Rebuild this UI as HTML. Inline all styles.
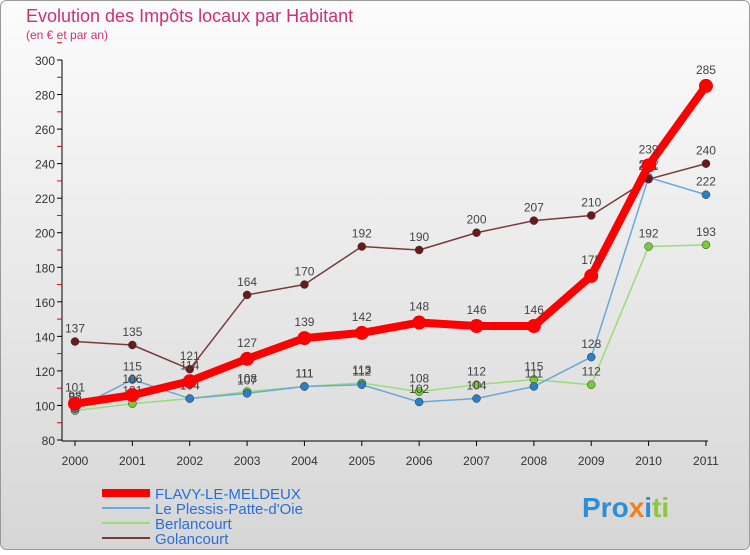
<!DOCTYPE html>
<html><head><meta charset="utf-8"><style>
body{margin:0;width:750px;height:550px;overflow:hidden;font-family:"Liberation Sans",sans-serif}
</style></head><body>
<svg width="750" height="550" xmlns="http://www.w3.org/2000/svg">
<defs><linearGradient id="bg" x1="0" y1="0" x2="0" y2="1"><stop offset="0" stop-color="#fcfcfc"/><stop offset="1" stop-color="#d6d6d6"/></linearGradient></defs>
<rect x="0.5" y="0.5" width="749" height="549" rx="6" fill="url(#bg)" stroke="#999"/>
<text x="26" y="22" font-size="18" fill="#d03070">Evolution des Impôts locaux par Habitant</text>
<text x="26" y="39" font-size="12" fill="#d03070">(en € et par an)</text>
<g id="axes"></g>
<g id="series"></g>
<g id="legend"></g>
<text x="582" y="517" font-size="28" font-weight="bold"><tspan fill="#2a8fd8">Pro</tspan><tspan fill="#f08020">x</tspan><tspan fill="#2a8fd8">i</tspan><tspan fill="#8cc83c">ti</tspan></text>
</svg>
<script>
const years=["2000","2001","2002","2003","2004","2005","2006","2007","2008","2009","2010","2011"];
const yTicks=[80,100,120,140,160,180,200,220,240,260,280,300];
const flavy=[101,106,114,127,139,142,148,146,146,175,239,285];
const plessis=[98,115,104,107,111,112,102,104,111,128,232,222];
const berlan=[97,101,104,108,111,113,108,112,115,112,192,193];
const golan=[137,135,121,164,170,192,190,200,207,210,231,240];
const names=["FLAVY-LE-MELDEUX","Le Plessis-Patte-d'Oie","Berlancourt","Golancourt"];
const NS="http://www.w3.org/2000/svg";
const X=i=>75+i*57.36, Y=v=>440-(v-80)*380/220;
function mk(t,a,p){const e=document.createElementNS(NS,t);for(const k in a)e.setAttribute(k,a[k]);p.appendChild(e);return e;}
const ax=document.getElementById('axes');
let l=mk('line',{x1:62,y1:60,x2:62,y2:441,stroke:'#000'},ax);


l=mk('line',{x1:62,y1:441,x2:708,y2:441,stroke:'#000'},ax);


yTicks.forEach(v=>{
 mk('line',{x1:57,y1:Y(v),x2:62,y2:Y(v),stroke:'#000'},ax);
 mk('line',{x1:57,y1:Y(v+10),x2:62,y2:Y(v+10),stroke:'#e00'},ax);
 const t=mk('text',{x:55,y:Y(v)+5,'text-anchor':'end','font-size':12,fill:'#333'},ax);t.textContent=v;
 
 
});
years.forEach((y,i)=>{
 mk('line',{x1:X(i),y1:441,x2:X(i),y2:446,stroke:'#000'},ax);
 const t=mk('text',{x:X(i),y:465,'text-anchor':'middle','font-size':12,fill:'#333'},ax);t.textContent=y;
 
 
});
const sg=document.getElementById('series');
const defs=[[berlan,'#99dd77','#77cc33',1.5,4],[plessis,'#6aa8d8','#2a80c8',1.5,4],[golan,'#7a3a3a','#6a1a1a',1.5,4],[flavy,'#ff0000','#ff0000',8,7]];
const keys=['series-berlancourt','series-plessis','series-golancourt','series-flavy'];
defs.forEach((d,k)=>{
 const g=mk('g',{},sg);
 
 
 mk('polyline',{points:d[0].map((v,i)=>X(i)+','+Y(v)).join(' '),fill:'none',stroke:d[1],'stroke-width':d[3],'stroke-linejoin':'round'},g);
 d[0].forEach((v,i)=>{
  const c=mk('circle',{cx:X(i),cy:Y(v),r:d[4],fill:d[2],stroke:k==3?'none':'#333','stroke-width':0.5},g);
  
  
  const t=mk('text',{x:X(i),y:Y(v)-9-(k==3?3:0),'text-anchor':'middle','font-size':12,fill:'#444'},g);t.textContent=v;
  
  
 });
});
const lg=document.getElementById('legend');
const lc=[['#ff0000',8],['#6aa8d8',2],['#99dd77',2],['#7a3a3a',2]];
names.forEach((n,i)=>{
 const y=493+i*15;
 const g=mk('g',{},lg);
 
 
 mk('line',{x1:102,y1:y,x2:150,y2:y,stroke:lc[i][0],'stroke-width':lc[i][1]},g);
 const t=mk('text',{x:155,y:y+6,'font-size':15,fill:'#2a6fd8'},g);t.textContent=n;
});
</script>
</body></html>
